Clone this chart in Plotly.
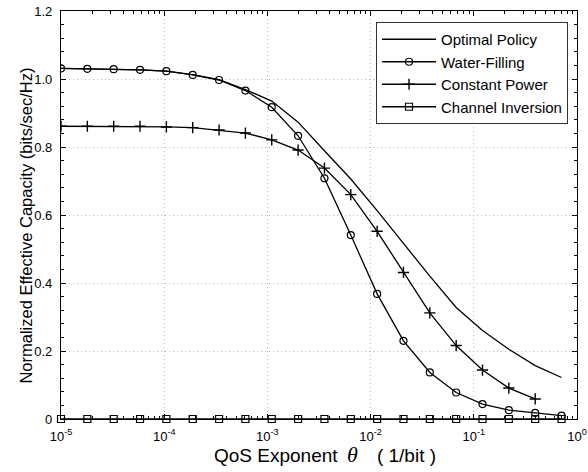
import plotly.graph_objects as go

theta = [1.0e-5, 1.8e-5, 3.24e-5, 5.832e-5, 1.04976e-4, 1.889568e-4, 3.4012e-4,
         6.1222e-4, 1.1020e-3, 1.9836e-3, 3.5705e-3, 6.4268e-3, 1.15683e-2,
         2.08229e-2, 3.74813e-2, 6.74664e-2, 0.121440, 0.218592, 0.393466, 0.708239]

optimal = [1.031, 1.030, 1.029, 1.027, 1.023, 1.013, 0.998, 0.969, 0.935, 0.873,
           0.789, 0.706, 0.613, 0.516, 0.420, 0.328, 0.260, 0.205, 0.157, 0.122]
water = [1.031, 1.030, 1.029, 1.027, 1.023, 1.012, 0.997, 0.966, 0.917, 0.833,
         0.708, 0.541, 0.368, 0.230, 0.137, 0.078, 0.044, 0.026, 0.018, 0.010]
const_power = [0.861, 0.861, 0.861, 0.861, 0.859, 0.857, 0.850, 0.841, 0.821, 0.791,
               0.738, 0.660, 0.552, 0.431, 0.312, 0.216, 0.144, 0.091, 0.059]
chan_inv = [0.0] * 20

x_tickvals = [1e-5, 1e-4, 1e-3, 1e-2, 1e-1, 1e0]
x_ticktext = ["10<sup>-5</sup>", "10<sup>-4</sup>", "10<sup>-3</sup>",
              "10<sup>-2</sup>", "10<sup>-1</sup>", "10<sup>0</sup>"]
y_tickvals = [0, 0.2, 0.4, 0.6, 0.8, 1.0, 1.2]
y_ticktext = ["0", "0.2", "0.4", "0.6", "0.8", "1.0", "1.2"]

x_title = ("QoS Exponent\u2002<span style=\"font-family:'Liberation Serif';"
           "font-style:italic;font-size:22px\">θ</span>\u2003( 1/bit )")
y_title = "Normalized Effective Capacity (bits/sec/Hz)"

FONT = "Liberation Sans, Arial, Helvetica, sans-serif"
LW = 1.3

fig = go.Figure()
fig.add_trace(go.Scatter(x=theta, y=optimal, mode="lines", name="Optimal Policy",
                         line=dict(color="black", width=LW)))
fig.add_trace(go.Scatter(x=theta, y=water, mode="lines+markers", name="Water-Filling",
                         line=dict(color="black", width=LW),
                         marker=dict(symbol="circle-open", size=7, color="black",
                                     line=dict(width=1.2))))
fig.add_trace(go.Scatter(x=theta[:len(const_power)], y=const_power, mode="lines+markers",
                         name="Constant Power",
                         line=dict(color="black", width=LW),
                         marker=dict(symbol="cross-thin-open", size=8, color="black",
                                     line=dict(width=1.4, color="black"))))
fig.add_trace(go.Scatter(x=theta, y=chan_inv, mode="lines+markers", name="Channel Inversion",
                         line=dict(color="black", width=LW), cliponaxis=False,
                         marker=dict(symbol="square-open", size=7, color="black",
                                     line=dict(width=1.2))))

axis_common = dict(
    showline=True, linecolor="black", linewidth=1.1, mirror="allticks",
    ticks="inside", ticklen=5, tickwidth=1, tickcolor="black",
    showgrid=True, gridcolor="#bdbdbd", griddash="1px,3px", gridwidth=1,
    zeroline=False, automargin=False,
    tickfont=dict(family=FONT, size=13, color="black"),
)

fig.update_xaxes(
    type="log", range=[-5, 0], tickvals=x_tickvals, ticktext=x_ticktext,
    ticklabelstandoff=5,
    minor=dict(ticks="inside", ticklen=3, tickcolor="black", dtick="D1", showgrid=False),
    **axis_common,
)
fig.update_yaxes(
    range=[0, 1.2], tickvals=y_tickvals, ticktext=y_ticktext,
    ticklabelstandoff=5,
    minor=dict(ticks="inside", ticklen=3, tickcolor="black", dtick=0.04, showgrid=False),
    **axis_common,
)

fig.add_annotation(text=x_title, xref="paper", yref="paper",
                   x=(325 - 61) / 516, y=(419 - 455) / 408,
                   xanchor="center", yanchor="middle", showarrow=False,
                   font=dict(family=FONT, size=19, color="black"))
fig.add_annotation(text=y_title, xref="paper", yref="paper",
                   x=(26 - 61) / 516, y=0.474, xanchor="center", yanchor="middle",
                   textangle=-90, showarrow=False,
                   font=dict(family=FONT, size=16.5, color="black"))

fig.update_layout(
    width=588, height=472,
    margin=dict(l=61, r=11, t=11, b=53, autoexpand=False),
    paper_bgcolor="white", plot_bgcolor="white",
    font=dict(family=FONT, color="black"),
    showlegend=True,
    legend=dict(x=0.9826, y=0.973, xanchor="right", yanchor="top",
                bgcolor="white", bordercolor="#333333", borderwidth=1,
                font=dict(family=FONT, size=15, color="black"),
                tracegroupgap=0, itemwidth=54),
)

fig.write_html("out.html")
